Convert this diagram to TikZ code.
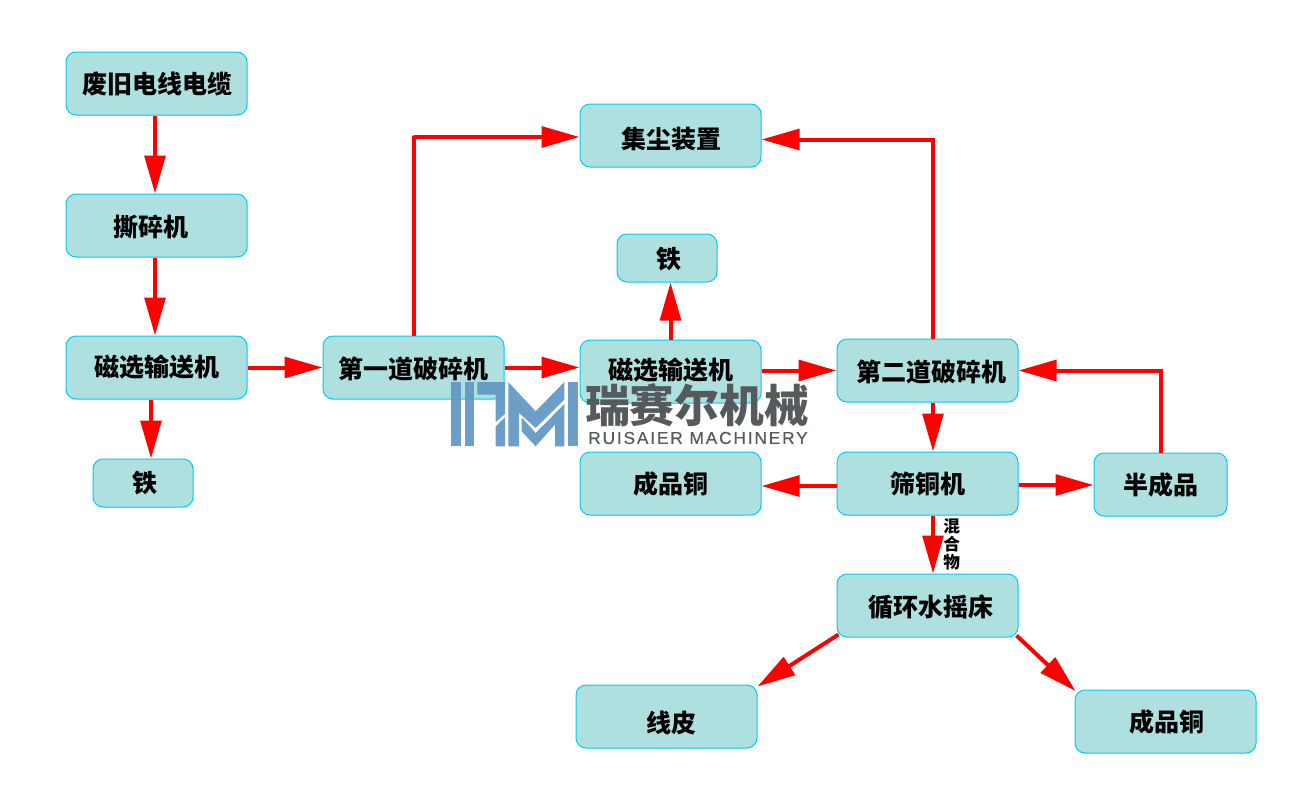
\documentclass[tikz,border=0pt]{standalone}
\usepackage{fontspec}
\usepackage{tikz}
\usetikzlibrary{
  arrows.meta,
  calc
}
\newfontfamily\cjkfont{Noto Sans CJK SC}
\newfontfamily\wmfont[LetterSpace=10.5,FakeBold=0.3]{Liberation Sans}
\definecolor{boxFill}{HTML}{AEE0E0}
\definecolor{boxEdge}{HTML}{00CCEE}
\definecolor{flowRed}{HTML}{FF0000}
\definecolor{logoBlue}{HTML}{6499C4}
\definecolor{logoGrey}{HTML}{555A5C}
\newcommand\nudged[3]{\raisebox{#2}[\height][\depth]{\kern#1 #3\kern-\dimexpr#1\relax}}
\tikzset{
  stage/.style={draw=boxEdge,line width=.75pt,fill=boxFill,rounded corners=7.5pt,
    minimum width=135.75pt,minimum height=47.25pt,inner sep=0pt,
    font=\cjkfont\bfseries\fontsize{18.75}{20}\selectfont},
  small stage/.style={stage,minimum width=75pt,minimum height=36pt},
  mid stage/.style={stage,minimum width=99.75pt},
  flow/.style={draw=flowRed,line width=3pt,
    -{Triangle[length=28.5pt,width=15.5pt,color=flowRed]}},
  logo part/.style={fill=logoBlue,fill opacity=.95},
}
\begin{document}
\begin{tikzpicture}[x=.75pt,y=-.75pt]
\useasboundingbox (0,0) rectangle (1300,800);
% left column
\node[stage] (cable) at (156.5,83.5) {\nudged{.75pt}{0pt}{废旧电线电缆}};
\node[stage] (shredder) at (156.5,225.5) {\nudged{-4.5pt}{-1.5pt}{撕碎机}};
\node[stage] (magnetA) at (156.5,367.5) {磁选输送机};
\node[small stage] (ironA) at (143,483) {\nudged{1.5pt}{0pt}{铁}};
% middle
\node[stage] (crusherA) at (413.5,367.5) {\nudged{0pt}{-1.2pt}{第一道破碎机}};
\node[stage] (dust) at (670.5,135.5) {\nudged{.75pt}{-2.6pt}{集尘装置}};
\node[small stage] (ironB) at (667,258) {\nudged{1.5pt}{-.75pt}{铁}};
\node[stage] (magnetB) at (670.5,371.5) {\nudged{0pt}{.75pt}{磁选输送机}};
\node[stage] (copperA) at (670.5,483.5) {成品铜};
\node[stage] (skin) at (666.5,716.5) {\nudged{3.75pt}{-5pt}{线皮}};
% right
\node[stage] (crusherB) at (927.5,370.5) {\nudged{3pt}{-1.2pt}{第二道破碎机}};
\node[stage] (sieve) at (927.5,483.5) {筛铜机};
\node[mid stage] (semi) at (1160.5,484.5) {半成品};
\node[stage] (shaker) at (927.5,605.5) {\nudged{2.25pt}{-1.5pt}{循环水摇床}};
\node[stage] (copperB) at (1165.5,721.5) {\nudged{.75pt}{0pt}{成品铜}};
% connectors
\draw[flow] ($(cable.south)+(-1.5,0)$) -- ($(shredder.north)+(-1.5,0)$);
\draw[flow] ($(shredder.south)+(-1.5,0)$) -- ($(magnetA.north)+(-1.5,0)$);
\draw[flow] ($(magnetA.south)+(-5.5,0)$) -- ($(ironA.north)+(8,0)$);
\draw[flow] (magnetA.east) -- (crusherA.west);
\draw[flow] (crusherA.east) -- (crusherA.east -| magnetB.west);
\draw[flow] (magnetB.east |- crusherB.west) -- (crusherB.west);
\draw[flow] (crusherA.north) -- (crusherA.north |- dust.west) -- ++(0,1.5) -- ($(dust.west)+(0,1.5)$);
\draw[flow] ($(crusherB.north)+(5.5,0)$) |- ($(dust.east)+(0,4)$);
\draw[flow] (magnetB.north) -- (magnetB.north |- ironB.south);
\draw[flow] ($(crusherB.south)+(5.5,0)$) -- ($(sieve.north)+(5.5,0)$);
\draw[flow] ($(sieve.west)+(0,2.5)$) -- ($(copperA.east)+(0,2.5)$);
\draw[flow] ($(sieve.east)+(0,1.5)$) -- ($(semi.west)+(0,.5)$);
\draw[flow] (semi.north) |- (crusherB.east);
\draw[flow] ($(sieve.south)+(5.5,0)$) -- node[pos=.5,xshift=14pt,yshift=0pt,align=center,
  font=\cjkfont\bfseries\fontsize{12.5}{13.5}\selectfont] (mixture) {混\\合\\物} ($(shaker.north)+(5.5,0)$);
\draw[flow] ($(shaker.south west)+(2,-3)$) -- ($(skin.north east)+(0,2)$);
\draw[flow] ($(shaker.south east)+(-2,-2)$) -- ($(copperB.north west)+(1,1.5)$);
% watermark
\begin{scope}[shift={(445,378)},x=.25pt,y=-.25pt]
  \foreach \part in {
    {(18,12) -- (48,12) -- (48,205) -- (18,205)},
    {(60,12) -- (88,12) -- (88,205) -- (60,205)},
    {(97,12) -- (180,12) -- (180,108) -- (152,132) -- (152,50) -- (97,50)},
    {(152,145) -- (180,118) -- (180,205) -- (152,205)},
    {(190,12) -- (272,100) -- (358,12) -- (358,65) -- (272,150) -- (222,105) -- (222,205) -- (190,205)},
    {(230,118) -- (272,165) -- (358,78) -- (358,108) -- (272,205) -- (230,160)},
    {(330,135) -- (358,108) -- (358,205) -- (330,205)},
    {(368,12) -- (400,12) -- (400,205) -- (368,205)}
  } {
    \fill[logo part] \part -- cycle;
  }
\end{scope}
\node[text=logoGrey,font=\cjkfont\bfseries\fontsize{33.6}{34}\selectfont,inner sep=0pt] (brand) at (697,405) {瑞赛尔机械};
\node[text=logoGrey,font=\wmfont\fontsize{13}{14}\selectfont,inner sep=0pt] (brandLatin) at (698,438) {RUISAIER MACHINERY};
\end{tikzpicture}
\end{document}
